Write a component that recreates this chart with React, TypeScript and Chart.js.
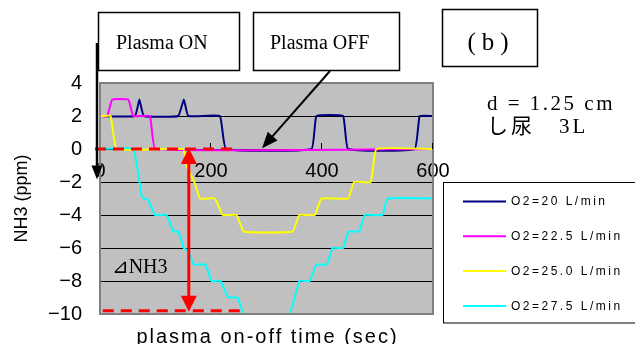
import React, { useEffect, useRef } from 'react';
import { Chart, registerables } from 'chart.js';

Chart.register(...registerables);

// ---------- data ----------
const seriesLabels = ['O2=20 L/min', 'O2=22.5 L/min', 'O2=25.0 L/min', 'O2=27.5 L/min'];
const seriesColors = ['#000080', '#ff00ff', '#ffff00', '#00ffff'];

const o2_20_time = [0, 63, 71, 79, 141, 151, 159, 216, 227, 381, 390, 438, 447, 567, 576, 600];
const o2_20_nh3 = [2, 2, 3, 2, 2, 3, 2, 2, 0, 0, 2, 2, 0, 0, 2, 2];

const o2_22_5_time = [0, 13, 22, 51, 60, 90, 100, 600];
const o2_22_5_nh3 = [2, 2, 3, 3, 2, 2, 0, 0];

const o2_25_time = [0, 19, 30, 150, 156, 171, 180, 207, 221, 246, 259, 347, 359, 387, 399, 447, 458, 488, 498, 600];
const o2_25_nh3 = [2, 2, 0, 0, -1, -2.1, -3, -3, -4, -4, -5, -5, -4, -4, -3, -3, -2, -2, 0, 0];

const o2_27_5_time = [0, 60, 75, 80, 87, 99, 120, 132, 141, 151, 159, 169, 190, 201, 217, 231, 248, 259, 341, 359, 378, 390, 409, 419, 438, 448, 467, 477, 509, 518, 600];
const o2_27_5_nh3 = [0, 0, -2.85, -3, -3.1, -4, -4, -5, -5, -6, -6.2, -7, -7, -8, -8, -9, -9, -10, -10, -8, -8, -7, -7, -6, -6, -5, -5, -4, -4, -3, -3];

const seriesTimes = [o2_20_time, o2_22_5_time, o2_25_time, o2_27_5_time];
const seriesValues = [o2_20_nh3, o2_22_5_nh3, o2_25_nh3, o2_27_5_nh3];

const xMin = 0, xMax = 600, xStep = 200;
const yMin = -10, yMax = 4, yStep = 2;

const xTitle = 'plasma on-off time (sec)';
const yTitle = 'NH3 (ppm)';

// delta-NH3 annotation (data units)
const deltaTopX = [-9, 238];
const deltaTopY = 0;
const deltaBottomX = [5, 252];
const deltaBottomY = -9.8;
const deltaArrowX = 160;
const deltaLabel = '⊿NH3';
const deltaLabelPos = { x: 21, y: -7.5 };

// arrow tips (data units)
const onArrowTip = { x: -5.4, y: -1.85 };
const offArrowTip = { x: 292, y: 0.05 };

const noteD = 'd = 1.25 cm';
const noteVol = 'し尿　3L';

function App() {
  const ref = useRef<HTMLCanvasElement | null>(null);

  useEffect(() => {
    const canvas = ref.current;
    if (!canvas) return;

    const setSpacing = (ctx: any, s: string) => {
      try { ctx.letterSpacing = s; } catch (e) { /* ignore */ }
    };

    const arrowHead = (ctx: CanvasRenderingContext2D, fx: number, fy: number, tx: number, ty: number, len: number, wid: number) => {
      const ang = Math.atan2(ty - fy, tx - fx);
      const bx = tx - len * Math.cos(ang);
      const by = ty - len * Math.sin(ang);
      const px = -Math.sin(ang) * wid / 2;
      const py = Math.cos(ang) * wid / 2;
      ctx.beginPath();
      ctx.moveTo(tx, ty);
      ctx.lineTo(bx + px, by + py);
      ctx.lineTo(bx - px, by - py);
      ctx.closePath();
      ctx.fill();
    };

    const decor = {
      id: 'decor',
      beforeDraw(chart: any) {
        const { ctx, chartArea: a } = chart;
        ctx.save();
        ctx.fillStyle = '#ffffff';
        ctx.fillRect(0, 0, chart.width, chart.height);
        ctx.fillStyle = '#c0c0c0';
        ctx.fillRect(a.left, a.top, a.right - a.left, a.bottom - a.top);
        ctx.restore();
      },
      afterDatasetsDraw(chart: any) {
        const { ctx, chartArea: a, scales } = chart;
        const xs = scales.x, ys = scales.y;
        ctx.save();
        // plot border
        ctx.strokeStyle = '#808080';
        ctx.lineWidth = 2;
        ctx.strokeRect(a.left, a.top, a.right - a.left, a.bottom - a.top);
        // small tick marks above the zero line
        ctx.strokeStyle = '#000';
        ctx.lineWidth = 1;
        const y0 = ys.getPixelForValue(0);
        xs.ticks.forEach((t: any) => {
          if (t.value === xMin) return;
          const px = Math.round(xs.getPixelForValue(t.value)) - 0.5;
          ctx.beginPath();
          ctx.moveTo(px, y0 - 6);
          ctx.lineTo(px, y0);
          ctx.stroke();
        });

        // red dashed lines
        ctx.strokeStyle = '#ff0000';
        ctx.lineWidth = 3;
        ctx.setLineDash([11, 7]);
        ctx.beginPath();
        ctx.moveTo(xs.getPixelForValue(deltaTopX[0]), ys.getPixelForValue(deltaTopY));
        ctx.lineTo(xs.getPixelForValue(deltaTopX[1]), ys.getPixelForValue(deltaTopY));
        ctx.stroke();
        ctx.beginPath();
        ctx.moveTo(xs.getPixelForValue(deltaBottomX[0]), ys.getPixelForValue(deltaBottomY));
        ctx.lineTo(xs.getPixelForValue(deltaBottomX[1]), ys.getPixelForValue(deltaBottomY));
        ctx.stroke();
        ctx.setLineDash([]);

        // red double arrow
        const ax = xs.getPixelForValue(deltaArrowX);
        const at = ys.getPixelForValue(deltaTopY) - 1;
        const ab = ys.getPixelForValue(deltaBottomY) + 1;
        ctx.fillStyle = '#ff0000';
        ctx.beginPath();
        ctx.moveTo(ax, at + 12);
        ctx.lineTo(ax, ab - 12);
        ctx.stroke();
        arrowHead(ctx, ax, ab, ax, at, 16, 16);
        arrowHead(ctx, ax, at, ax, ab, 16, 16);

        // delta label
        ctx.fillStyle = '#000';
        ctx.font = "20px 'Liberation Serif', 'DejaVu Serif', serif";
        ctx.textAlign = 'left';
        ctx.textBaseline = 'alphabetic';
        ctx.fillText(deltaLabel, xs.getPixelForValue(deltaLabelPos.x), ys.getPixelForValue(deltaLabelPos.y) + 0);
        ctx.restore();
      },
      afterDraw(chart: any) {
        const { ctx, scales, chartArea: a } = chart;
        const xs = scales.x, ys = scales.y;
        ctx.save();

        // note boxes
        ctx.strokeStyle = '#000';
        ctx.lineWidth = 1.5;
        ctx.strokeRect(98.5, 12.5, 141, 58);
        ctx.strokeRect(253.5, 12.5, 146, 58);
        ctx.strokeRect(442.5, 9.5, 95, 57);

        ctx.fillStyle = '#000';
        ctx.textBaseline = 'alphabetic';
        ctx.textAlign = 'left';
        ctx.font = "20px 'Liberation Serif', serif";
        ctx.fillText('Plasma ON', 116, 48.5);
        ctx.fillText('Plasma OFF', 270, 48.5);
        ctx.font = "25px 'Liberation Serif', serif";
        setSpacing(ctx, '6px');
        const bw = ctx.measureText('(b)').width - 6;
        ctx.fillText('(b)', 488 - bw / 2, 50);
        setSpacing(ctx, '0px');

        // Plasma ON arrow (vertical)
        const onTx = xs.getPixelForValue(onArrowTip.x);
        const onTy = ys.getPixelForValue(onArrowTip.y);
        ctx.lineWidth = 2.5;
        ctx.beginPath();
        ctx.moveTo(onTx, 43);
        ctx.lineTo(onTx, onTy - 10);
        ctx.stroke();
        arrowHead(ctx, onTx, 43, onTx, onTy, 14, 11);

        // Plasma OFF arrow (diagonal)
        const offTx = xs.getPixelForValue(offArrowTip.x);
        const offTy = ys.getPixelForValue(offArrowTip.y);
        const sx = 330, sy = 71;
        const ang = Math.atan2(offTy - sy, offTx - sx);
        ctx.lineWidth = 2;
        ctx.beginPath();
        ctx.moveTo(sx, sy);
        ctx.lineTo(offTx - 12 * Math.cos(ang), offTy - 12 * Math.sin(ang));
        ctx.stroke();
        arrowHead(ctx, sx, sy, offTx, offTy, 16, 13);

        // conditions text
        ctx.font = "21px 'Liberation Serif', serif";
        setSpacing(ctx, '2.5px');
        ctx.fillText(noteD, 487, 110);
        ctx.font = "21px 'Liberation Serif', 'Noto Sans CJK JP', serif";
        setSpacing(ctx, '3px');
        ctx.fillText(noteVol, 487, 133);

        // x title
        ctx.font = "20px 'Liberation Sans', Arial, sans-serif";
        setSpacing(ctx, '2px');
        ctx.textAlign = 'center';
        ctx.fillText(xTitle, (a.left + a.right) / 2 + 1, 343);
        setSpacing(ctx, '0px');

        // legend
        const lx = 443.5, ly = 182.5;
        ctx.lineWidth = 1;
        ctx.strokeStyle = '#000';
        ctx.strokeRect(lx, ly, 220, 140.5);
        ctx.font = "12px 'Liberation Sans', Arial, sans-serif";
        setSpacing(ctx, '2.5px');
        ctx.textAlign = 'left';
        ctx.textBaseline = 'middle';
        chart.data.datasets.forEach((ds: any, i: number) => {
          const yy = 201.5 + i * 34.8;
          ctx.strokeStyle = ds.borderColor;
          ctx.lineWidth = 2;
          ctx.beginPath();
          ctx.moveTo(463, yy);
          ctx.lineTo(506, yy);
          ctx.stroke();
          ctx.fillStyle = '#000';
          ctx.fillText(ds.label, 511, yy + 0.5);
        });
        setSpacing(ctx, '0px');
        ctx.restore();
      },
    };

    const datasets = seriesLabels.map((label, i) => ({
      label,
      data: seriesTimes[i].map((x, j) => ({ x, y: seriesValues[i][j] })),
      showLine: true,
      borderColor: seriesColors[i],
      backgroundColor: seriesColors[i],
      borderWidth: 2,
      pointRadius: 0,
      pointHoverRadius: 0,
      tension: 0.1,
      fill: false,
      order: seriesLabels.length - i,
    }));

    const chart = new Chart(canvas, {
      type: 'scatter',
      data: { datasets },
      options: {
        animation: false,
        responsive: false,
        maintainAspectRatio: false,
        events: [],
        layout: { padding: { left: 0, top: 83, right: 202, bottom: 25 } },
        plugins: { legend: { display: false }, tooltip: { enabled: false }, title: { display: false } },
        scales: {
          x: {
            type: 'linear',
            min: xMin,
            max: xMax,
            position: { y: 0 } as any,
            grid: { display: false, drawTicks: false },
            border: { display: false },
            ticks: {
              stepSize: xStep,
              color: '#000',
              padding: 10,
              font: { family: "'Liberation Sans', Arial, sans-serif", size: 20 },
              maxRotation: 0,
            },
          },
          y: {
            type: 'linear',
            min: yMin,
            max: yMax,
            position: 'left',
            afterFit: (s: any) => { s.width = 100; },
            grid: { color: '#000', lineWidth: 1, drawTicks: false },
            border: { display: false },
            ticks: {
              stepSize: yStep,
              color: '#000',
              padding: 18,
              font: { family: "'Liberation Sans', Arial, sans-serif", size: 20 },
              callback: (v: any) => (Number(v) < 0 ? '\u2212' + Math.abs(Number(v)) : String(v)),
            },
            title: {
              display: true,
              text: yTitle,
              color: '#000',
              font: { family: "'Liberation Sans', Arial, sans-serif", size: 18 },
              padding: { top: 11, bottom: 0 },
            },
          },
        },
      },
      plugins: [decor],
    });

    return () => chart.destroy();
  }, []);

  return (
    <div style={{ position: 'fixed', left: 0, top: 0, width: 635, height: 344, background: '#fff' }}>
      <canvas ref={ref} width={635} height={344} style={{ display: 'block' }} />
    </div>
  );
}

export default App;
